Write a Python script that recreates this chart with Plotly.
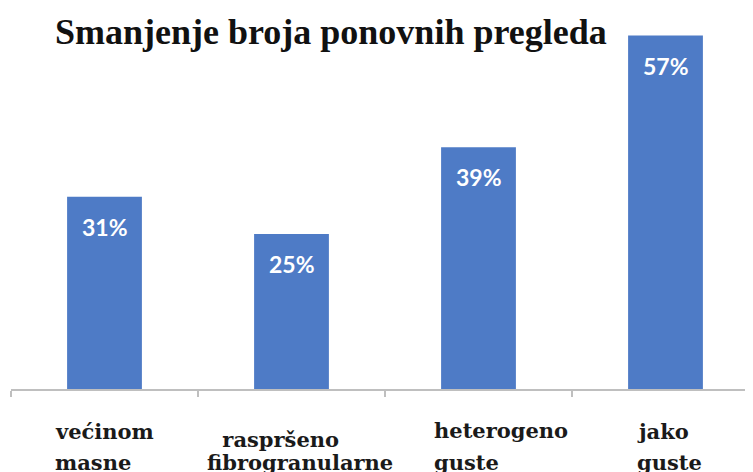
import plotly.graph_objects as go

categories = ["većinom masne", "raspršeno fibrogranularne", "heterogeno guste", "jako guste"]
values = [31, 25, 39, 57]
value_labels = ["31%", "25%", "39%", "57%"]
label_line1 = ["većinom", "\u00a0raspršeno", "heterogeno", "jako"]
label_line2 = ["masne", "fibrogranularne", "guste", "guste"]
title_text = "Smanjenje broja ponovnih pregleda"

bar_color = "#4E7BC6"

# The page body has an 8px margin, so the figure is sized to fill the
# remaining visible window area.
W, H = 745, 464

fig = go.Figure()
fig.add_trace(go.Bar(
    x=categories, y=values, marker=dict(color=bar_color, line=dict(width=0)),
    hoverinfo="skip", showlegend=False,
))

for c, v, t in zip(categories, values, value_labels):
    fig.add_annotation(x=c, y=v, text=t, showarrow=False, xref="x", yref="y",
                       yanchor="middle", yshift=-30,
                       font=dict(family="Lato", size=23, color="white", weight="bold"))

shifts1 = [-51.5, -79, -46.5, -30.5]
shifts2 = [-51.5, -87, -46.5, -30.5]
yshift1 = [-42, -50, -41, -42]
for i, c in enumerate(categories):
    fig.add_annotation(x=c, y=0, xref="x", yref="paper", text=label_line1[i],
                       showarrow=False, xanchor="left", yanchor="middle",
                       xshift=shifts1[i], yshift=yshift1[i],
                       font=dict(family="DejaVu Serif", size=21, color="#1a1a1a", weight="bold"))
    fig.add_annotation(x=c, y=0, xref="x", yref="paper", text=label_line2[i],
                       showarrow=False, xanchor="left", yanchor="middle",
                       xshift=shifts2[i], yshift=-73,
                       font=dict(family="DejaVu Serif", size=21, color="#1a1a1a", weight="bold"))

fig.update_layout(
    width=W, height=H,
    margin=dict(l=3, r=0, t=12, b=83),
    paper_bgcolor="white", plot_bgcolor="white",
    bargap=0.6,
    title=dict(text=title_text, xref="container", yref="container",
               x=47/W, xanchor="left", y=1 - 23/H, yanchor="middle",
               font=dict(family="Liberation Serif", size=36, color="#111111", weight="bold")),
    xaxis=dict(range=[-0.5, -0.5 + 742/187], showline=True, linecolor="#BFBFBF", linewidth=1.5,
               ticks="outside", ticklen=6, tickcolor="#BFBFBF", tickwidth=1.5,
               tickson="boundaries", showticklabels=False, showgrid=False, zeroline=False,
               fixedrange=True),
    yaxis=dict(range=[0, 59.5], visible=False, fixedrange=True),
)

fig.write_html("out.html")
